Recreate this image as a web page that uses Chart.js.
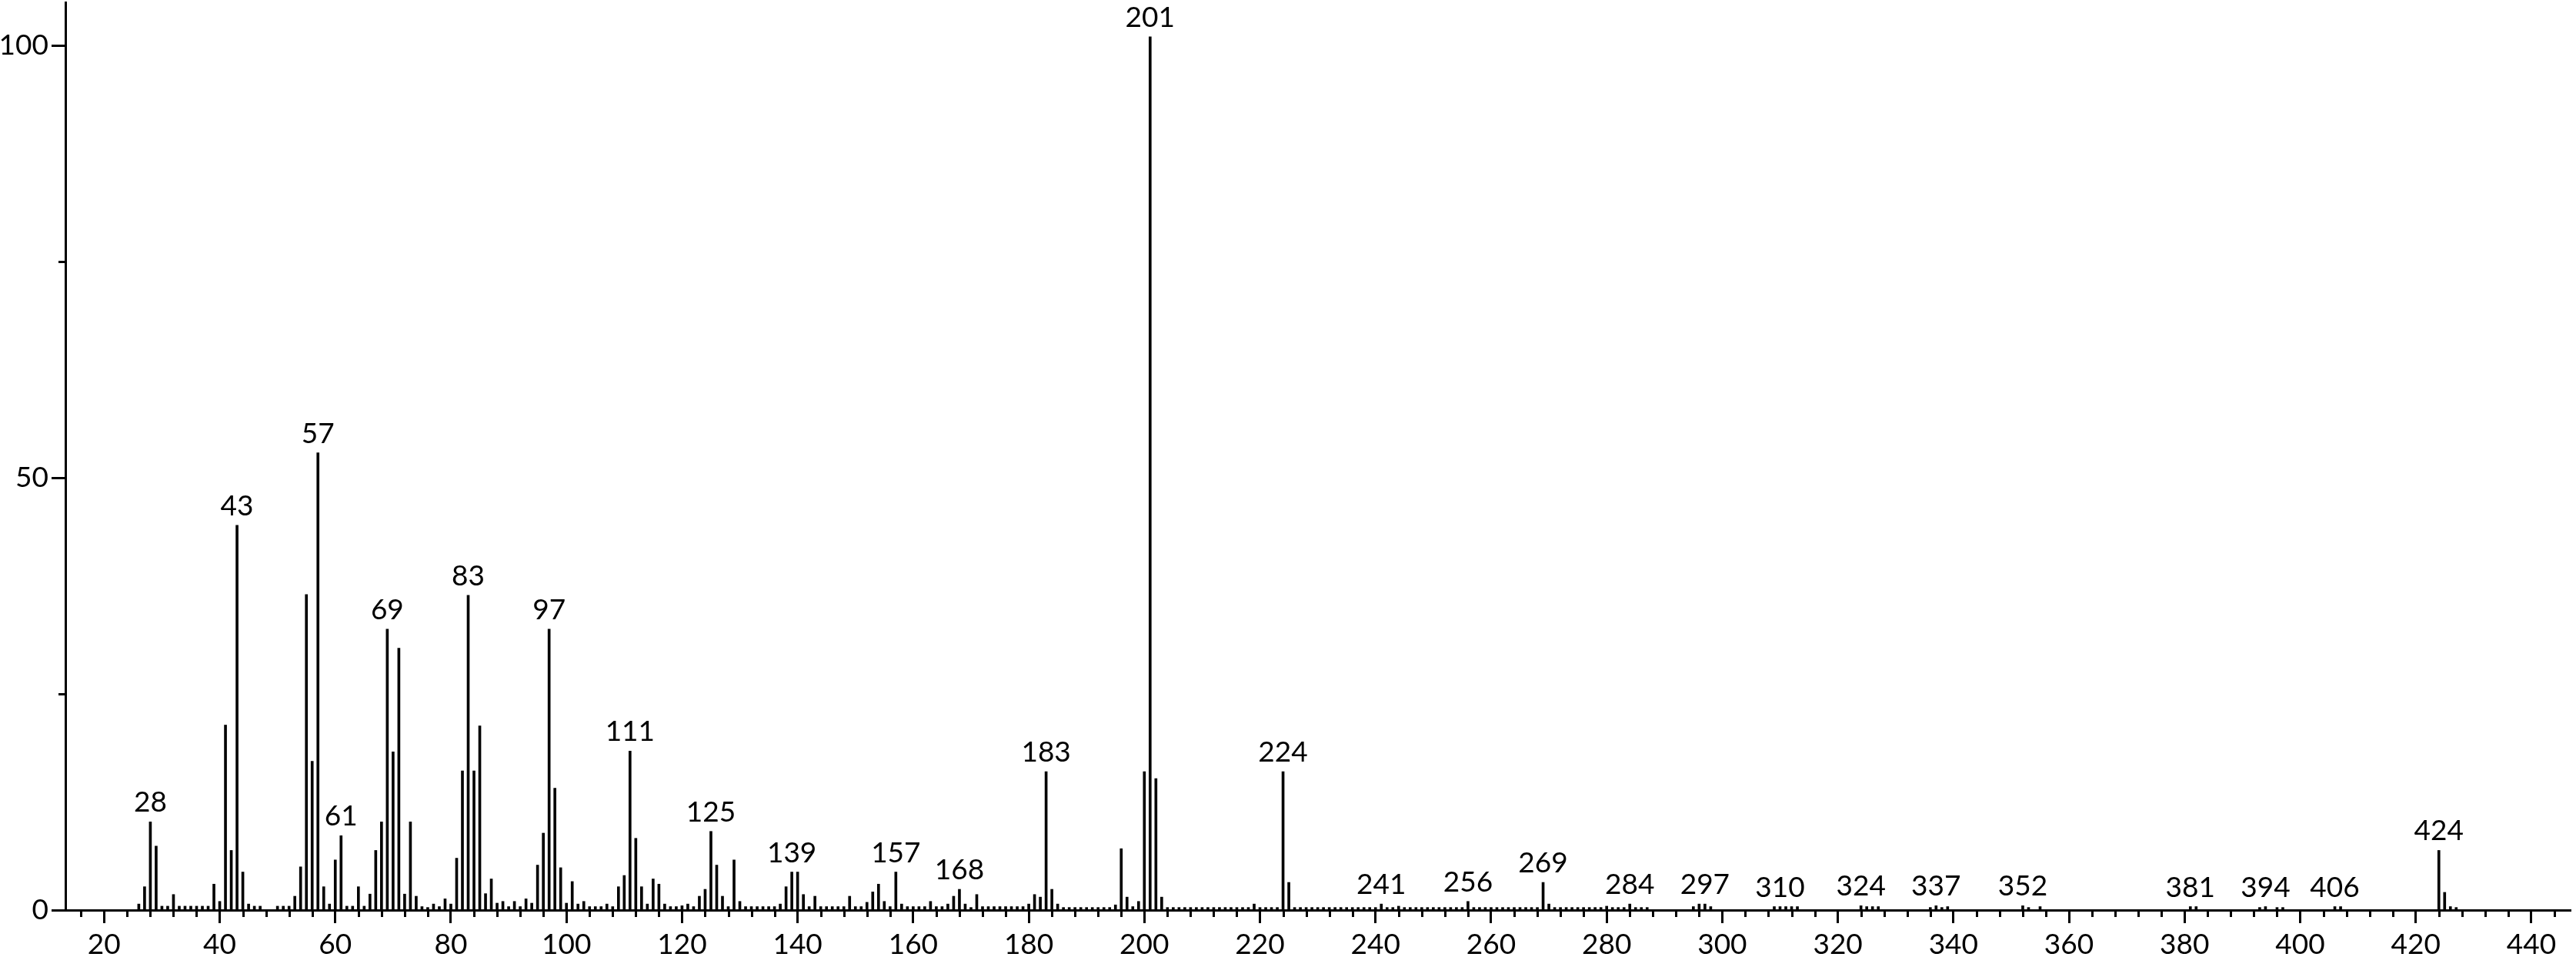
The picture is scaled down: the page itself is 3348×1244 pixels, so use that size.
<!DOCTYPE html>
<html>
<head>
<meta charset="utf-8">
<script src="https://cdn.jsdelivr.net/npm/chart.js@4/dist/chart.umd.min.js"></script>
<style>
  html, body { margin: 0; padding: 0; background: #fff; }
  #wrap { width: 3348px; height: 1244px; }
</style>
</head>
<body>
<div id="wrap"><canvas id="c" width="3348" height="1244"></canvas></div>
<script>
// m/z values (categories)
const mz = [
  26,27,28,29,30,31,32,33,34,35,
  36,37,38,39,40,41,42,43,44,45,
  46,47,50,51,52,53,54,55,56,57,
  58,59,60,61,62,63,64,65,66,67,
  68,69,70,71,72,73,74,75,76,77,
  78,79,80,81,82,83,84,85,86,87,
  88,89,90,91,92,93,94,95,96,97,
  98,99,100,101,102,103,104,105,106,107,
  108,109,110,111,112,113,114,115,116,117,
  118,119,120,121,122,123,124,125,126,127,
  128,129,130,131,132,133,134,135,136,137,
  138,139,140,141,142,143,144,145,146,147,
  148,149,150,151,152,153,154,155,156,157,
  158,159,160,161,162,163,164,165,166,167,
  168,169,170,171,172,173,174,175,176,177,
  178,179,180,181,182,183,184,185,186,187,
  188,189,190,191,192,193,194,195,196,197,
  198,199,200,201,202,203,204,205,206,207,
  208,209,210,211,212,213,214,215,216,217,
  218,219,220,221,222,223,224,225,226,227,
  228,229,230,231,232,233,234,235,236,237,
  238,239,240,241,242,243,244,245,246,247,
  248,249,250,251,252,253,254,255,256,257,
  258,259,260,261,262,263,264,265,266,267,
  268,269,270,271,272,273,274,275,276,277,
  278,279,280,281,282,283,284,285,286,287,
  295,296,297,298,309,310,311,312,313,324,
  325,326,327,336,337,338,339,352,353,355,
  381,382,393,394,396,397,406,407,424,425,
  426,427
];

// relative intensity (%)
const intensity = [
  0.7,2.7,10.2,7.4,0.45,0.45,1.8,0.45,0.45,0.45,
  0.45,0.45,0.45,3.0,1.0,21.4,6.9,44.5,4.4,0.7,
  0.45,0.45,0.45,0.45,0.45,1.6,5.0,36.5,17.2,52.9,
  2.7,0.7,5.8,8.6,0.45,0.45,2.7,0.45,1.85,6.9,
  10.2,32.5,18.3,30.3,1.85,10.2,1.6,0.4,0.3,0.7,
  0.4,1.3,0.7,6.0,16.1,36.4,16.1,21.3,1.9,3.6,
  0.8,1.0,0.4,1.0,0.4,1.3,0.8,5.2,8.9,32.5,
  14.1,4.9,0.8,3.3,0.7,1.0,0.4,0.4,0.4,0.7,
  0.4,2.7,4.0,18.4,8.3,2.7,0.7,3.6,3.0,0.7,
  0.4,0.4,0.5,0.7,0.4,1.6,2.4,9.1,5.2,1.6,
  0.4,5.8,1.0,0.4,0.4,0.4,0.4,0.4,0.4,0.7,
  2.7,4.4,4.4,1.8,0.4,1.6,0.4,0.4,0.4,0.4,
  0.4,1.6,0.4,0.4,0.9,2.1,3.0,1.0,0.4,4.4,
  0.7,0.4,0.4,0.4,0.4,1.0,0.4,0.4,0.7,1.6,
  2.4,0.7,0.3,1.8,0.4,0.4,0.4,0.4,0.4,0.4,
  0.4,0.4,0.7,1.8,1.5,16.0,2.4,0.7,0.3,0.3,
  0.3,0.3,0.3,0.3,0.3,0.3,0.3,0.6,7.1,1.5,
  0.4,1.0,16.0,101,15.2,1.5,0.3,0.3,0.3,0.3,
  0.3,0.3,0.3,0.3,0.3,0.3,0.3,0.3,0.3,0.3,
  0.3,0.7,0.3,0.3,0.3,0.3,16.0,3.2,0.3,0.3,
  0.3,0.3,0.3,0.3,0.3,0.3,0.3,0.3,0.3,0.3,
  0.3,0.3,0.3,0.7,0.3,0.3,0.45,0.3,0.3,0.3,
  0.3,0.3,0.3,0.3,0.3,0.3,0.3,0.3,1.0,0.3,
  0.3,0.3,0.3,0.3,0.3,0.3,0.3,0.3,0.3,0.3,
  0.3,3.2,0.7,0.3,0.3,0.3,0.3,0.3,0.3,0.3,
  0.3,0.3,0.45,0.3,0.3,0.3,0.7,0.3,0.3,0.3,
  0.4,0.7,0.7,0.4,0.4,0.4,0.4,0.4,0.4,0.5,
  0.4,0.4,0.4,0.3,0.5,0.3,0.4,0.5,0.3,0.4,
  0.4,0.4,0.3,0.4,0.3,0.3,0.4,0.4,6.9,2.05,
  0.4,0.3
];

// peaks annotated with their m/z
const peakLabels = [28,43,57,61,69,83,97,111,125,139,157,168,183,201,224,241,256,269,284,297,310,324,337,352,381,394,406,424];

// axis tick values
const xMajorStep = 20;
const xMinorStep = 4;
const yTickLabels = [0, 50, 100];
const yMinorTicks = [25, 75];

const FONT = 'Lato, "Open Sans", sans-serif';

const annotate = {
  id: 'annotate',
  afterDraw(chart) {
    const { ctx, chartArea, scales: { x, y } } = chart;
    ctx.save();
    ctx.strokeStyle = '#000';
    ctx.lineWidth = 3;
    ctx.lineCap = 'butt';
    // minor x ticks
    const start = Math.ceil(x.min / xMinorStep) * xMinorStep;
    for (let v = start; v <= x.max; v += xMinorStep) {
      if (v % xMajorStep === 0) continue;
      const px = Math.round(x.getPixelForValue(v)) + 0.5;
      ctx.beginPath();
      ctx.moveTo(px, chartArea.bottom);
      ctx.lineTo(px, chartArea.bottom + 9);
      ctx.stroke();
    }
    // minor y ticks
    yMinorTicks.forEach(v => {
      const py = Math.round(y.getPixelForValue(v)) + 0.5;
      ctx.beginPath();
      ctx.moveTo(chartArea.left, py);
      ctx.lineTo(chartArea.left - 9, py);
      ctx.stroke();
    });
    // peak labels
    ctx.fillStyle = '#000';
    ctx.font = '37px ' + FONT;
    ctx.textAlign = 'center';
    ctx.textBaseline = 'alphabetic';
    peakLabels.forEach(m => {
      const i = mz.indexOf(m);
      const v = i >= 0 ? intensity[i] : 0.4;
      ctx.fillText(String(m), x.getPixelForValue(m), y.getPixelForValue(v) - 13);
    });
    ctx.restore();
  }
};

new Chart(document.getElementById('c'), {
  type: 'bar',
  data: {
    datasets: [{
      data: mz.map((m, i) => ({ x: m, y: intensity[i] })),
      backgroundColor: '#000',
      borderWidth: 0,
      barThickness: 3
    }]
  },
  options: {
    responsive: false,
    animation: false,
    devicePixelRatio: 1,
    layout: { padding: { top: 3, right: 7, left: 0, bottom: 0 } },
    plugins: { legend: { display: false }, tooltip: { enabled: false } },
    scales: {
      x: {
        type: 'linear',
        min: 13.3,
        max: 446.8,
        offset: false,
        grid: { display: true, offset: false, drawOnChartArea: false, drawTicks: true, tickLength: 17, tickWidth: 3, tickColor: '#000' },
        border: { display: true, color: '#000', width: 3 },
        ticks: {
          stepSize: xMajorStep,
          includeBounds: false,
          autoSkip: false,
          maxRotation: 0,
          color: '#000',
          padding: 6,
          font: { family: FONT, size: 37 },
          callback: v => String(v)
        },
        afterFit: s => { s.height = 61; s.paddingLeft = 0; s.paddingRight = 0; }
      },
      y: {
        min: 0,
        max: 105,
        grid: { display: true, drawOnChartArea: false, drawTicks: true, tickLength: 18, tickWidth: 3, tickColor: '#000' },
        border: { display: true, color: '#000', width: 3 },
        ticks: {
          stepSize: 50,
          includeBounds: false,
          color: '#000',
          padding: 4,
          font: { family: FONT, size: 37 },
          callback: v => yTickLabels.includes(v) ? String(v) : ''
        },
        afterFit: s => { s.width = 85; s.paddingTop = 0; s.paddingBottom = 0; }
      }
    }
  },
  plugins: [annotate]
});
</script>
</body>
</html>
